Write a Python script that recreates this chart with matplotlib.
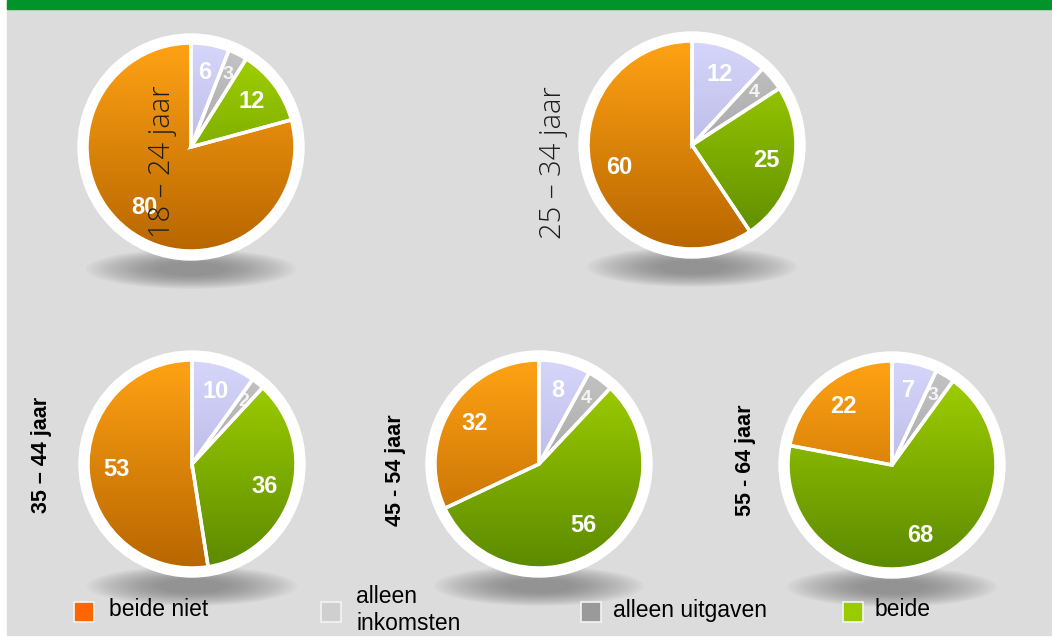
import numpy as np
import matplotlib.pyplot as plt
from matplotlib.patches import Circle, Ellipse, Rectangle
from matplotlib.colors import LinearSegmentedColormap

W, H = 1052, 637

# Data
groups = ["18 – 24 jaar", "25 – 34 jaar", "35 – 44 jaar", "45 - 54 jaar", "55 - 64 jaar"]
inkomsten = [6, 12, 10, 8, 7]
uitgaven = [3, 4, 2, 4, 3]
beide = [12, 25, 36, 56, 68]
beide_niet = [80, 60, 53, 32, 22]

legend_labels = ["beide niet", "alleen\ninkomsten", "alleen uitgaven", "beide"]
legend_colors = ["#ff6600", "#cfcfcf", "#9a9a9a", "#99cc00"]

# gradient colours per slice (top, bottom)
grad = [("#d6d6fb", "#a4a4d6"), ("#c6c6c6", "#8c8c8c"),
        ("#a4d400", "#5c8a00"), ("#ffa214", "#b86600")]

# layout in pixels (x, y from top)
centers = [(191, 147), (692, 145), (192, 464), (539, 464), (892, 465)]
R = 104
label_pos = [(162, 162), (553, 163), (42, 455), (395, 470), (745, 460)]

fig = plt.figure(figsize=(W / 100, H / 100), dpi=100)
fig.patch.set_facecolor("white")
ax = fig.add_axes([0, 0, 1, 1])


def Y(y):
    return H - y


# background
ax.add_patch(Rectangle((7, Y(635)), W - 7, 635, color="#dcdcdc", zorder=0))
ax.add_patch(Rectangle((7, Y(9)), W - 7, 9, color="#00942a", zorder=0.5))

for i, (cx, cy) in enumerate(centers):
    vals = [inkomsten[i], uitgaven[i], beide[i], beide_niet[i]]
    c = (cx, Y(cy))

    # soft shadow under the pie
    n = 24
    for k in range(n):
        f = k / n
        ax.add_patch(Ellipse((cx, Y(cy + 122)), 210 - 150 * f, 40 - 28 * f,
                             color="#6a6a6a", alpha=0.035, lw=0, zorder=1))
    # white ring
    ax.add_patch(Circle(c, R + 9, color="white", zorder=1.5))

    wedges, _ = ax.pie(vals, center=c, radius=R, startangle=90,
                       counterclock=False, frame=True,
                       wedgeprops=dict(edgecolor="white", linewidth=2.5,
                                       facecolor="none", zorder=4))
    for w, v, (top, bot) in zip(wedges, vals, grad):
        cmap = LinearSegmentedColormap.from_list("g", [top, bot])
        img = ax.imshow(np.linspace(0, 1, 200).reshape(-1, 1), cmap=cmap,
                        extent=(cx - R, cx + R, c[1] - R, c[1] + R),
                        origin="upper", aspect="auto", zorder=3)
        img.set_clip_path(w)

        mid = np.deg2rad((w.theta1 + w.theta2) / 2)
        small = v < 5
        d = 0.78 * R if small else 0.73 * R
        ax.text(cx + d * np.cos(mid), c[1] + d * np.sin(mid), str(v),
                ha="center", va="center", color="white",
                fontsize=14 if small else 17, fontweight="bold",
                family="Liberation Sans", alpha=0.85 if small else 1,
                zorder=6)

    lx, ly = label_pos[i]
    if i < 2:
        ax.text(lx, Y(ly), groups[i], rotation=90, ha="center", va="center",
                fontsize=21, fontweight="light", family="Open Sans",
                color="#1e1e1e", zorder=7)
    else:
        ax.text(lx, Y(ly), groups[i], rotation=90, ha="center", va="center",
                fontsize=15.5, fontweight="bold", family="Liberation Sans",
                color="black", zorder=7)

# legend
sq_x = [74, 321, 581, 843]
tx_x = [109, 356, 613, 875]
for sx, tx, lab, col in zip(sq_x, tx_x, legend_labels, legend_colors):
    ax.add_patch(Rectangle((sx, Y(622)), 20, 20, facecolor=col,
                           edgecolor="#f4f4f4", lw=1.2, zorder=5))
    ax.text(tx, Y(610), lab, ha="left", va="center", fontsize=16.5,
            family=["Liberation Sans Narrow", "Liberation Sans"],
            color="black", linespacing=1.25, zorder=5)

ax.set_xlim(0, W)
ax.set_ylim(0, H)
ax.set_aspect("auto")
ax.axis("off")

fig.savefig("out.png", dpi=100, facecolor="white")
